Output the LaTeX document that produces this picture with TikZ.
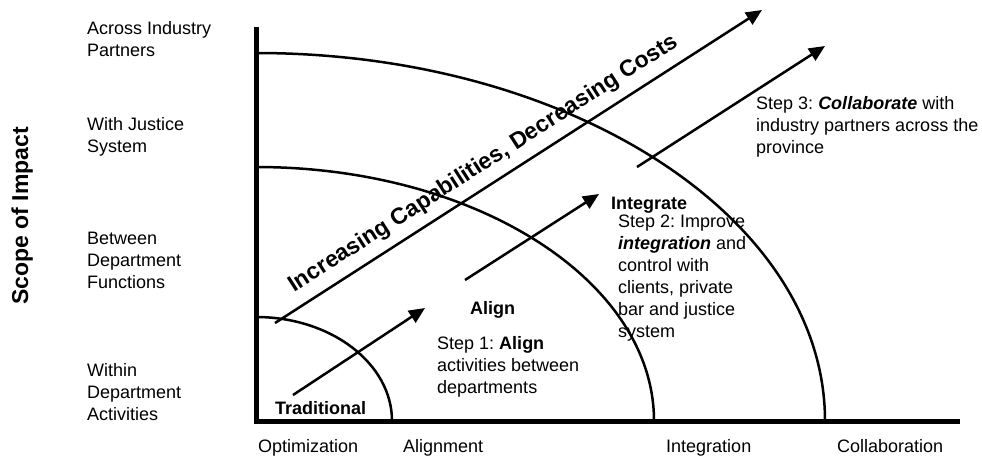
\documentclass[tikz,border=0pt]{standalone}
\usepackage{fontspec}
\setmainfont{Liberation Sans}
\usetikzlibrary{arrows.meta}
\begin{document}
\begin{tikzpicture}[x=1pt,y=-1pt,
  lbl/.style={inner sep=0pt, anchor=base west, align=left, font=\fontsize{18}{22}\selectfont\frenchspacing},
  blbl/.style={inner sep=0pt, anchor=base west, align=left, font=\fontsize{18}{22}\selectfont\bfseries},
  big/.style={inner sep=0pt, font=\fontsize{23}{27}\selectfont\bfseries},
  ring/.style={line width=2.5pt},
  arr/.style={line width=2.5pt, -{Triangle[length=16pt,width=14pt]}},
  axisline/.style={line width=5pt}]
\useasboundingbox (0,0) rectangle (982,456);
% rings
\draw[ring] (256,317) arc[start angle=90,end angle=0,x radius=136pt,y radius=104pt];
\draw[ring] (256,167) arc[start angle=90,end angle=0,x radius=398pt,y radius=254pt];
\draw[ring] (256,53) arc[start angle=90,end angle=0,x radius=569pt,y radius=368pt];
% axes
\coordinate (ytop) at (256,27);
\coordinate (orig) at (256,421);
\coordinate (xend) at (960,421);
\draw[axisline] (ytop) -- (orig) -- (xend);
% arrows
\coordinate (bigS) at (275,323);
\coordinate (bigE) at (762,10);
\coordinate (trS) at (293,395);
\coordinate (trE) at (425,308);
\coordinate (alS) at (465,280);
\coordinate (alE) at (599,194);
\coordinate (coS) at (637,167);
\coordinate (coE) at (825,46);
\draw[arr] (bigS) -- (bigE);
\draw[arr] (trS) -- (trE);
\draw[arr] (alS) -- (alE);
\draw[arr] (coS) -- (coE);
% big rotated caption
\node[big, rotate=32.73, anchor=base] (cap) at (487,169) {Increasing Capabilities, Decreasing Costs};
\node[big, rotate=90, anchor=base] (scope) at (28,216) {Scope of Impact};
% left labels (anchor = baseline of last line)
\node[lbl] (l1) at (87,56) {Across Industry\\Partners};
\node[lbl] (l2) at (87,152) {With Justice\\System};
\node[lbl] (l3) at (87,288) {Between\\Department\\Functions};
\node[lbl] (l4) at (87,420) {Within\\Department\\Activities};
% bottom labels
\node[lbl] (b1) at (258,452) {Optimization};
\node[lbl] (b2) at (403,452) {Alignment};
\node[lbl] (b3) at (666,452) {Integration};
\node[lbl] (b4) at (837,452) {Collaboration};
% stage labels
\node[blbl] (trad) at (275,414) {Traditional};
\node[blbl] (align) at (470,314) {Align};
\node[lbl] (step1) at (437,393) {Step 1: \textbf{Align}\\activities between\\departments};
\node[blbl] (integ) at (611,209) {Integrate};
\node[lbl] (step2) at (618,337) {Step 2: Improve\\\textbf{\textit{integration}} and\\control with\\clients, private\\bar and justice\\system};
\node[lbl] (step3) at (756,153) {Step 3: \textbf{\textit{Collaborate}} with\\industry partners across the\\province};
\end{tikzpicture}
\end{document}
